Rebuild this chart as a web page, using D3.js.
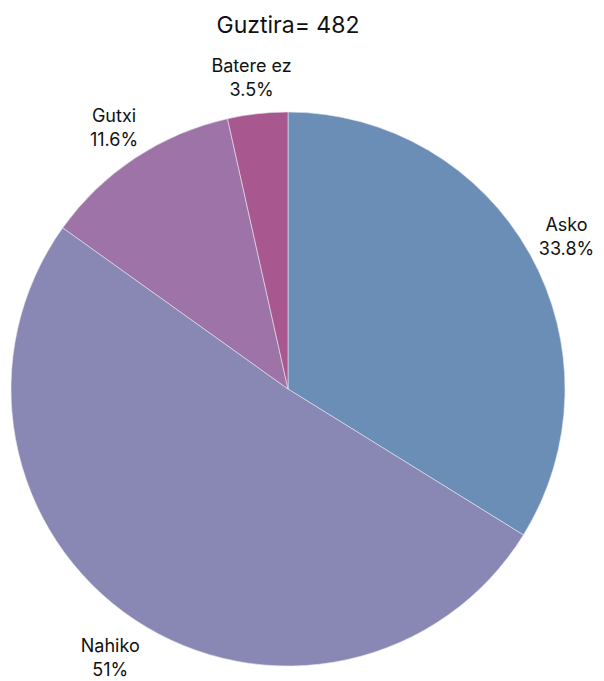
<!DOCTYPE html>
<html><head><meta charset="utf-8">
<script src="https://cdn.jsdelivr.net/npm/d3@7"></script>
<style>body{margin:0;background:#fff}svg{display:block}text{font-family:Inter,"Noto Sans",sans-serif;fill:#111}</style>
</head><body>
<svg id="c" width="604" height="681"></svg>
<script>
const title = "Guztira= 482";
const categories = ["Asko", "Nahiko", "Gutxi", "Batere ez"];
const values = [33.8, 51, 11.6, 3.5];
const valueLabels = ["33.8%", "51%", "11.6%", "3.5%"];
const colors = ["#6b8eb7", "#8987b4", "#9e74a8", "#a8588f"];

const svg = d3.select("#c");
const cx = 288, cy = 389, r = 277;
svg.append("text").attr("x", 288).attr("y", 33).attr("text-anchor", "middle")
  .attr("font-size", 23).text(title);

const data = categories.map((c, i) => ({c, v: values[i], l: valueLabels[i], col: colors[i]}));
const pie = d3.pie().sort(null).value(d => d.v);
const arcs = pie(data);
const arc = d3.arc().innerRadius(0).outerRadius(r);
const g = svg.append("g").attr("transform", `translate(${cx},${cy})`);
g.selectAll("path").data(arcs).join("path")
  .attr("d", arc).attr("fill", d => d.data.col)
  .attr("stroke", "#e8e8f0").attr("stroke-width", 0.6);

const lr = r + 14;
const fs = 18, lh = 24;
arcs.forEach(a => {
  const m = (a.startAngle + a.endAngle) / 2;
  const s = Math.sin(m), c = Math.cos(m);
  const px = lr * s, py = -lr * c;
  const t = g.append("text").attr("font-size", fs).attr("text-anchor", "middle");
  t.append("tspan").attr("x", 0).attr("dy", 0).text(a.data.c);
  t.append("tspan").attr("x", 0).attr("dy", lh).text(a.data.l);
  const bb = t.node().getBBox();
  const w = bb.width, h = bb.height;
  const ccx = px + (w / 2) * s, ccy = py - (h / 2) * c + (c < 0 ? 8 : 0);
  t.attr("transform", `translate(${ccx},${ccy - bb.y - h / 2})`);
});
</script>
</body></html>
